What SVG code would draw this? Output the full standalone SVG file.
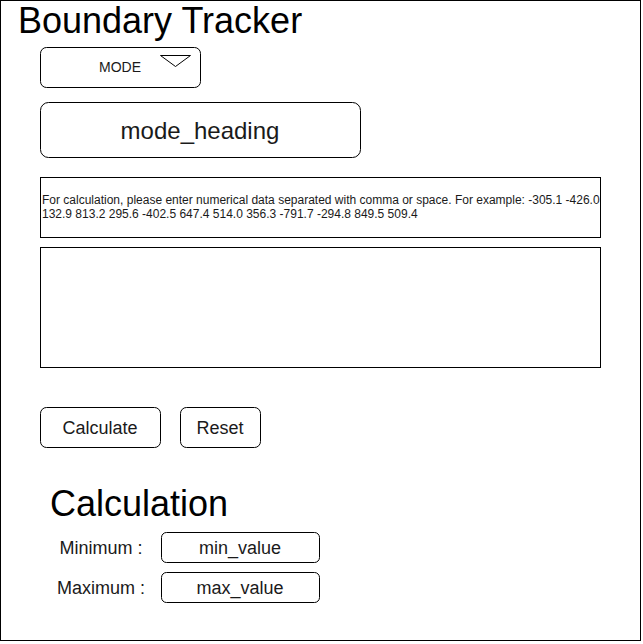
<svg xmlns="http://www.w3.org/2000/svg" width="643" height="644" viewBox="0 0 643 644">
<style>
.box{fill:#ffffff;stroke:#000000;stroke-width:1}
.t{font-family:"Liberation Sans",Arial,Helvetica,sans-serif;fill:#000000}
.c{text-anchor:middle}
.g{fill:#1a1a1a}
</style>
<rect x="0" y="0" width="643" height="644" fill="#ffffff"/>
<g id="frame">
<rect class="box" x="0.5" y="0.5" width="640" height="640"/>
</g>
<g id="title">
<text class="t" x="18" y="33" font-size="36">Boundary Tracker</text>
</g>
<g id="mode-dropdown">
<rect class="box" x="40.5" y="47.5" width="160" height="40" rx="6" ry="6"/>
<text class="t c g" x="120" y="72" font-size="14">MODE</text>
<path d="M160.5 55.5 L190.5 55.5 L175.5 66.5 Z" fill="none" stroke="#000" stroke-width="1"/>
</g>
<g id="mode-heading">
<rect class="box" x="40.5" y="102.5" width="320" height="55" rx="8" ry="8"/>
<text class="t c g" x="200" y="138.5" font-size="24">mode_heading</text>
</g>
<g id="instructions">
<rect class="box" x="40.5" y="177.5" width="560" height="60"/>
<text class="t g" x="42" y="204" font-size="12">For calculation, please enter numerical data separated with comma or space. For example: -305.1 -426.0</text>
<text class="t g" x="42" y="218" font-size="12">132.9 813.2 295.6 -402.5 647.4 514.0 356.3 -791.7 -294.8 849.5 509.4</text>
</g>
<g id="input-area">
<rect class="box" x="40.5" y="247.5" width="560" height="120"/>
</g>
<g id="calculate-button">
<rect class="box" x="40.5" y="407.5" width="120" height="40" rx="6" ry="6"/>
<text class="t c g" x="100" y="433.5" font-size="18">Calculate</text>
</g>
<g id="reset-button">
<rect class="box" x="180.5" y="407.5" width="80" height="40" rx="6" ry="6"/>
<text class="t c g" x="220" y="433.5" font-size="18">Reset</text>
</g>
<g id="calc-heading">
<text class="t" x="50" y="516" font-size="36">Calculation</text>
</g>
<g id="min-label">
<text class="t c g" x="101" y="553.5" font-size="18">Minimum :</text>
</g>
<g id="min-value">
<rect class="box" x="161.5" y="532.5" width="158" height="30" rx="5" ry="5"/>
<text class="t c g" x="240" y="553.5" font-size="18">min_value</text>
</g>
<g id="max-label">
<text class="t c g" x="101" y="593.5" font-size="18">Maximum :</text>
</g>
<g id="max-value">
<rect class="box" x="161.5" y="572.5" width="158" height="30" rx="5" ry="5"/>
<text class="t c g" x="240" y="593.5" font-size="18">max_value</text>
</g>
<g id="connectors"></g>
</svg>
